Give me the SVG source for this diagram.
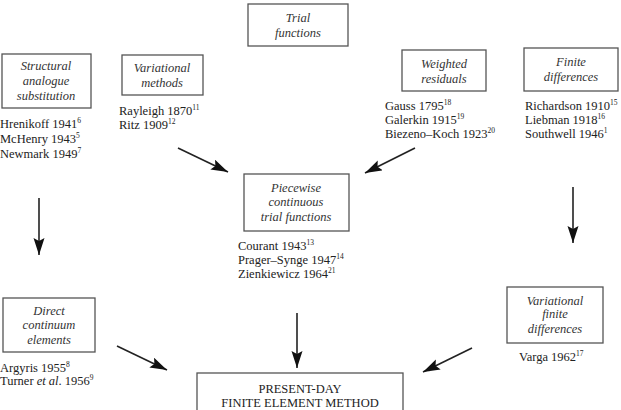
<svg xmlns="http://www.w3.org/2000/svg" width="621" height="410" viewBox="0 0 621 410">
<style>
.box{fill:#fff;stroke:#555;stroke-width:1.3}
.t{font-family:"Liberation Serif","DejaVu Serif",serif;font-size:12.5px;font-style:italic;fill:#333;text-anchor:middle}
.r{font-family:"Liberation Serif","DejaVu Serif",serif;font-size:12.5px;fill:#222}
.s{font-size:7.5px}
.m{font-family:"Liberation Serif","DejaVu Serif",serif;font-size:12.5px;fill:#222;text-anchor:middle}
.c{stroke:#222;stroke-width:1.6;fill:none;marker-end:url(#ah)}
</style>
<defs>
<marker id="ah" markerUnits="userSpaceOnUse" markerWidth="18" markerHeight="12" refX="17" refY="5.5" orient="auto">
<path d="M0,0 L17,5.5 L0,11 L3,5.5 Z" fill="#111"/>
</marker>
</defs>
<rect width="621" height="410" fill="#fff"/>
<g id="trial">
<rect class="box" x="248" y="4" width="100" height="42"/>
<text class="t" x="298" y="22">Trial</text>
<text class="t" x="298" y="37">functions</text>
</g>
<g id="structural">
<rect class="box" x="2" y="54" width="89" height="54"/>
<text class="t" x="46" y="70">Structural</text>
<text class="t" x="46" y="85">analogue</text>
<text class="t" x="46" y="100">substitution</text>
<text class="r" x="0" y="128">Hrenikoff 1941<tspan class="s" dy="-5">6</tspan></text>
<text class="r" x="0" y="143">McHenry 1943<tspan class="s" dy="-5">5</tspan></text>
<text class="r" x="0" y="158">Newmark 1949<tspan class="s" dy="-5">7</tspan></text>
</g>
<g id="variational">
<rect class="box" x="122" y="55" width="81" height="40"/>
<text class="t" x="162" y="72">Variational</text>
<text class="t" x="162" y="87">methods</text>
<text class="r" x="119" y="115">Rayleigh 1870<tspan class="s" dy="-5">11</tspan></text>
<text class="r" x="119" y="129">Ritz 1909<tspan class="s" dy="-5">12</tspan></text>
</g>
<g id="weighted">
<rect class="box" x="402" y="50" width="84" height="41"/>
<text class="t" x="444" y="68">Weighted</text>
<text class="t" x="444" y="83">residuals</text>
<text class="r" x="385" y="110">Gauss 1795<tspan class="s" dy="-5">18</tspan></text>
<text class="r" x="385" y="124">Galerkin 1915<tspan class="s" dy="-5">19</tspan></text>
<text class="r" x="385" y="138">Biezeno–Koch 1923<tspan class="s" dy="-5">20</tspan></text>
</g>
<g id="finitediff">
<rect class="box" x="524" y="48" width="94" height="43"/>
<text class="t" x="571" y="66">Finite</text>
<text class="t" x="571" y="81">differences</text>
<text class="r" x="525" y="110">Richardson 1910<tspan class="s" dy="-5">15</tspan></text>
<text class="r" x="525" y="124">Liebman 1918<tspan class="s" dy="-5">16</tspan></text>
<text class="r" x="525" y="138">Southwell 1946<tspan class="s" dy="-5">1</tspan></text>
</g>
<g id="piecewise">
<rect class="box" x="244" y="174" width="105" height="57"/>
<text class="t" x="296" y="192">Piecewise</text>
<text class="t" x="296" y="206">continuous</text>
<text class="t" x="296" y="221">trial functions</text>
<text class="r" x="238" y="250">Courant 1943<tspan class="s" dy="-5">13</tspan></text>
<text class="r" x="238" y="264">Prager–Synge 1947<tspan class="s" dy="-5">14</tspan></text>
<text class="r" x="238" y="278">Zienkiewicz 1964<tspan class="s" dy="-5">21</tspan></text>
</g>
<g id="direct">
<rect class="box" x="3" y="298" width="92" height="54"/>
<text class="t" x="49" y="315">Direct</text>
<text class="t" x="49" y="329">continuum</text>
<text class="t" x="49" y="344">elements</text>
<text class="r" x="0" y="372">Argyris 1955<tspan class="s" dy="-5">8</tspan></text>
<text class="r" x="0" y="385">Turner <tspan font-style="italic">et al</tspan>. 1956<tspan class="s" dy="-5">9</tspan></text>
</g>
<g id="varfinite">
<rect class="box" x="507" y="287" width="96" height="56"/>
<text class="t" x="555" y="305">Variational</text>
<text class="t" x="555" y="318">finite</text>
<text class="t" x="555" y="333">differences</text>
<text class="r" x="519" y="361">Varga 1962<tspan class="s" dy="-5">17</tspan></text>
</g>
<g id="present">
<rect class="box" x="197" y="373" width="206" height="45"/>
<text class="m" x="300" y="393">PRESENT-DAY</text>
<text class="m" x="300" y="407">FINITE ELEMENT METHOD</text>
</g>
<g id="connectors">
<line class="c" x1="178" y1="148" x2="228" y2="172"/>
<line class="c" x1="415" y1="148" x2="365" y2="173"/>
<line class="c" x1="39" y1="198" x2="39" y2="255"/>
<line class="c" x1="573" y1="187" x2="573" y2="243"/>
<line class="c" x1="297" y1="313" x2="297" y2="368"/>
<line class="c" x1="117" y1="346" x2="167" y2="370"/>
<line class="c" x1="472" y1="348" x2="423" y2="372"/>
</g>
</svg>
